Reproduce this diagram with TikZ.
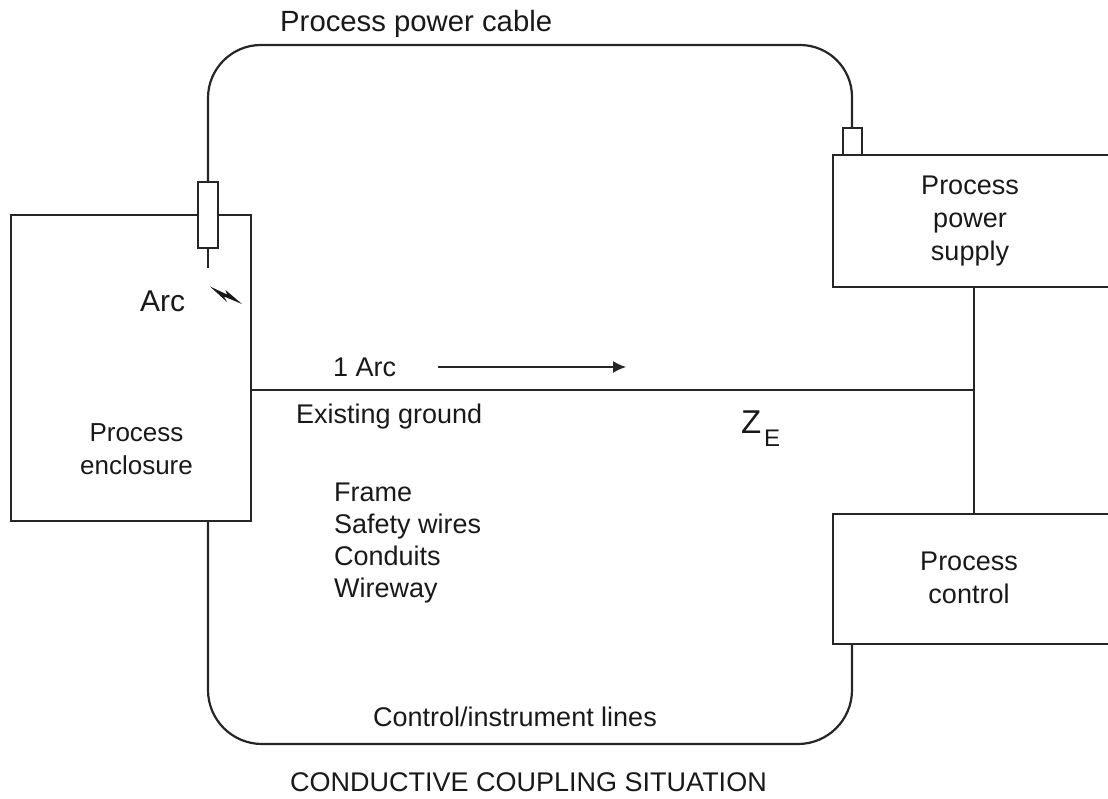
\documentclass[tikz,border=0pt]{standalone}
\usepackage{fontspec}
\setmainfont{Liberation Sans}
\usetikzlibrary{arrows.meta}
\tikzset{
  wire/.style={draw=black!85,line width=2.2pt},
  boxwire/.style={draw=black!85,line width=2pt,fill=white,inner sep=0pt},
  lbl/.style={inner sep=0pt,font=\fontsize{27}{33}\selectfont,align=center,text=black!90},
  lbll/.style={lbl,anchor=base west,align=left}
}
\begin{document}
\begin{tikzpicture}[x=1pt,y=-1pt]
\useasboundingbox (0,0) rectangle (1108,799);
\coordinate (encTL) at (11,215);
\coordinate (encBR) at (251,521);
\coordinate (supTL) at (833,155);
\coordinate (supTR) at (1109,155);
\coordinate (supBL) at (833,287);
\coordinate (supBR) at (1109,287);
\coordinate (conTL) at (833,514);
\coordinate (conTR) at (1109,514);
\coordinate (conBL) at (833,644);
\coordinate (conBR) at (1109,644);
\draw[wire] (encTL) rectangle (encBR);
\draw[wire] (supTR) -- (supTL) -- (supBL) -- (supBR);
\draw[wire] (conTR) -- (conTL) -- (conBL) -- (conBR);
% bushings
\node[boxwire,minimum width=20pt,minimum height=66pt,anchor=center] (bush) at (208,215.5) {};
\node[boxwire,minimum width=19pt,minimum height=27pt] (term) at (852,141.5) {};
\coordinate (tip) at (208,268);
\draw[wire] (bush.south) -- (tip);
% power cable
\draw[wire] (bush.north) -- (208,98) arc[start angle=180,end angle=270,radius=53] -- (800,45) arc[start angle=270,end angle=360,radius=52] -- (term.north);
% control lines
\coordinate (ctlL) at (208,521);
\coordinate (ctlR) at (852,644);
\draw[wire] (ctlL) -- (208,690) arc[start angle=180,end angle=90,radius=54] -- (798,744) arc[start angle=90,end angle=0,radius=54] -- (ctlR);
% ground
\coordinate (gndL) at (251,390);
\coordinate (gndR) at (974,390);
\coordinate (supV) at (974,287);
\coordinate (conV) at (974,514);
\draw[wire] (supV) -- (conV);
\draw[wire] (gndL) -- (gndR);
% arrow
\coordinate (arrA) at (438,367);
\coordinate (arrB) at (626,367);
\draw[line width=1.4pt,draw=black!85,-{Latex[length=13pt,width=12pt]}] (arrA) -- (arrB);
% lightning
\fill[black!90] (210,286.5) -- (227,294.5) -- (225.5,290) -- (242,304) -- (224,296.5) -- (227,302) -- cycle;
% labels
\node[lbll,font=\fontsize{29.3}{32}\selectfont] (tCable) at (280,31.5) {Process power cable};
\node[lbll,font=\fontsize{30}{32}\selectfont] (tArc) at (140,312) {Arc};
\node[lbl,font=\fontsize{26}{33}\selectfont] (tEnc) at (136.5,449.5) {Process\\enclosure};
\node[lbl] (tSup) at (970,221) {Process\\power\\supply};
\node[lbl] (tCon) at (969,578) {Process\\control};
\node[lbll] (t1) at (333,377) {1 Arc};
\node[lbll] (tGnd) at (296,423) {Existing ground};
\node[lbl,anchor=west,align=left,font=\fontsize{27}{32}\selectfont] (tFrame) at (334,543) {Frame\\Safety wires\\Conduits\\Wireway};
\node[lbll] (tCtl) at (373,726) {Control/instrument lines};
\node[lbll] (tTitle) at (290,791) {CONDUCTIVE COUPLING SITUATION};
\node[lbll,font=\fontsize{33}{36}\selectfont] (tZ) at (741,433) {Z};
\node[lbll,font=\fontsize{24}{30}\selectfont] (tE) at (764,446) {E};
\end{tikzpicture}
\end{document}
